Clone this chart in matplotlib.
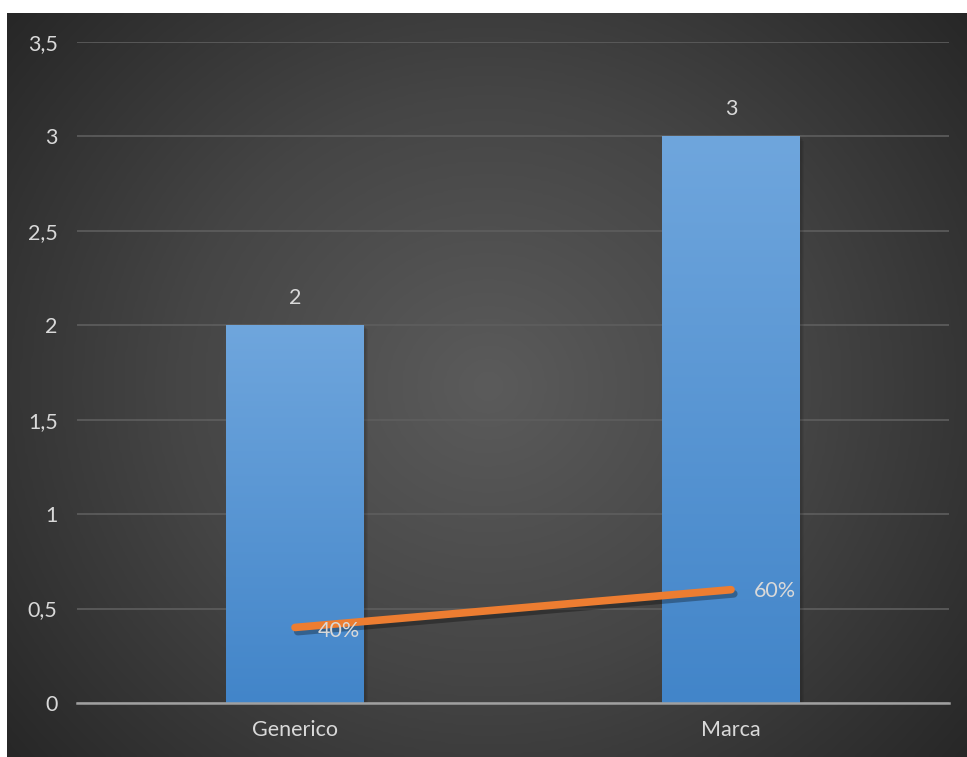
import numpy as np
import matplotlib
matplotlib.use('Agg')
import matplotlib.pyplot as plt
import matplotlib.patheffects as pe
from matplotlib.colors import LinearSegmentedColormap

plt.rcParams['font.family'] = ['Lato', 'DejaVu Sans']

categories = ['Generico', 'Marca']
counts = [2, 3]
shares = [0.4, 0.6]
yticks = [0, 0.5, 1, 1.5, 2, 2.5, 3, 3.5]

W, H = 967, 757
fig = plt.figure(figsize=(W / 100, H / 100), dpi=100)
fig.patch.set_facecolor('white')

# dark panel with radial shading
bg = fig.add_axes([7 / W, 0, 1 - 7 / W, 1 - 13 / H])
bg.set_axis_off()
yy, xx = np.mgrid[0:300, 0:380]
cx, cy = 190, 150
r = np.sqrt(((xx - cx) / 200) ** 2 + ((yy - cy) / 190) ** 2)
r = np.clip(r / 1.25, 0, 1)
shade = LinearSegmentedColormap.from_list('shade', ['#5b5b5b', '#454545', '#272727'])
bg.imshow(r, cmap=shade, aspect='auto', extent=[0, 1, 0, 1], interpolation='bicubic')

ax = fig.add_axes([77 / W, 1 - 703 / H, (949 - 77) / W, (703 - 42) / H])
ax.set_facecolor('none')
ax.set_xlim(-0.5, 1.5)
ax.set_ylim(0, 3.5)

x = np.arange(len(categories))
width = 0.316
fs = 15.5

# bars with a vertical gradient and a soft shadow
grad = LinearSegmentedColormap.from_list('bar', ['#4285c9', '#6fa6dd'])
for xi, v in zip(x, counts):
    for k in range(3):
        ax.bar(xi + 0.004 + 0.003 * k, v, width, bottom=-0.01 - 0.006 * k,
               color='black', alpha=0.06, lw=0, zorder=2)
    g = np.linspace(0, 1, 256).reshape(-1, 1)
    ax.imshow(g, cmap=grad, origin='lower', aspect='auto',
              extent=[xi - width / 2, xi + width / 2, 0, v], zorder=3)
    ax.text(xi, v + 0.09, str(v), ha='center', va='bottom', color='#d9d9d9', fontsize=fs)

ax.plot(x, shares, color='#ed7d31', lw=5.5, solid_capstyle='round', zorder=5,
        path_effects=[pe.SimpleLineShadow(offset=(2, -3), alpha=0.3, shadow_color='black'),
                      pe.Normal()])
for xi, s in zip(x, shares):
    ax.text(xi + 0.052, s - (0.005 if xi else 0.02), f'{s:.0%}', ha='left', va='center',
            color='#d9d9d9', fontsize=fs, zorder=6)

ax.set_yticks(yticks)
ax.set_yticklabels([f'{t:g}'.replace('.', ',') for t in yticks])
ax.set_xticks(x)
ax.set_xticklabels(categories)
ax.grid(axis='y', color='#5e5e5e', lw=1.2, zorder=1)
ax.set_axisbelow(True)
for s in ['top', 'right', 'left']:
    ax.spines[s].set_visible(False)
ax.spines['bottom'].set_color('#a0a0a0')
ax.spines['bottom'].set_linewidth(1.8)
ax.spines['bottom'].set_zorder(4)
ax.tick_params(axis='both', length=0, colors='#d9d9d9', labelsize=fs)
ax.tick_params(axis='y', pad=14)
ax.tick_params(axis='x', pad=12)

fig.savefig('out.png', dpi=100, facecolor=fig.get_facecolor())
